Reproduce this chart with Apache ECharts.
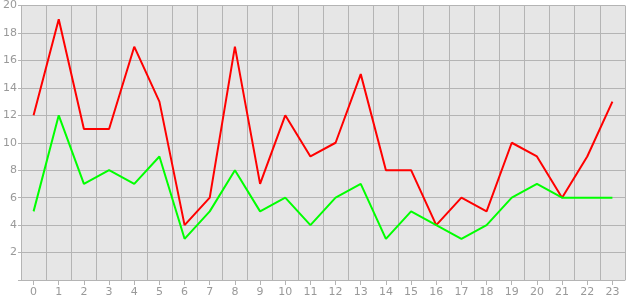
<!DOCTYPE html>
<html><head><meta charset="utf-8">
<script src="https://cdn.jsdelivr.net/npm/echarts@6/dist/echarts.min.js"></script>
<style>html,body{margin:0;padding:0;background:#fff}#c{width:630px;height:300px}</style>
</head><body><div id="c"></div>
<script>
var categories = ['0','1','2','3','4','5','6','7','8','9','10','11','12','13','14','15','16','17','18','19','20','21','22','23'];
var redValues = [12,19,11,11,17,13,4,6,17,7,12,9,10,15,8,8,4,6,5,10,9,6,9,13];
var greenValues = [5,12,7,8,7,9,3,5,8,5,6,4,6,7,3,5,4,3,4,6,7,6,6,6];
var yMin = 0, yMax = 20, yStep = 2;

var chart = echarts.init(document.getElementById('c'), null, {renderer:'canvas'});
var gridColor = '#b4b4b4';
var labelColor = '#999999';
chart.setOption({
  animation: false,
  backgroundColor: '#ffffff',
  grid: {left: 20, right: 5, top: 5, bottom: 20, show: true, backgroundColor: '#e6e6e6', borderWidth: 0},
  xAxis: {
    type: 'category', data: categories, boundaryGap: true,
    axisLine: {show: true, lineStyle: {color: gridColor, width: 1}},
    axisTick: {show: true, alignWithLabel: true, length: 5, lineStyle: {color: gridColor, width: 1}},
    axisLabel: {color: labelColor, fontFamily: 'DejaVu Sans', fontSize: 11, margin: 7},
    splitLine: {show: true, lineStyle: {color: gridColor, width: 1}}
  },
  yAxis: {
    type: 'value', min: yMin, max: yMax, interval: yStep,
    axisLine: {show: true, lineStyle: {color: gridColor, width: 1}},
    axisTick: {show: true, length: 3, lineStyle: {color: gridColor, width: 1}},
    axisLabel: {color: labelColor, fontFamily: 'DejaVu Sans', fontSize: 11, margin: 4,
      formatter: function(v){ return v === 0 ? '' : String(v); }},
    splitLine: {show: true, lineStyle: {color: gridColor, width: 1}}
  },
  series: [
    {type: 'line', data: redValues, showSymbol: false, symbol: 'none', lineStyle: {color: '#ff0000', width: 2}, itemStyle: {color: '#ff0000'}},
    {type: 'line', data: greenValues, showSymbol: false, symbol: 'none', lineStyle: {color: '#00ff00', width: 2}, itemStyle: {color: '#00ff00'}}
  ]
});
</script></body></html>
